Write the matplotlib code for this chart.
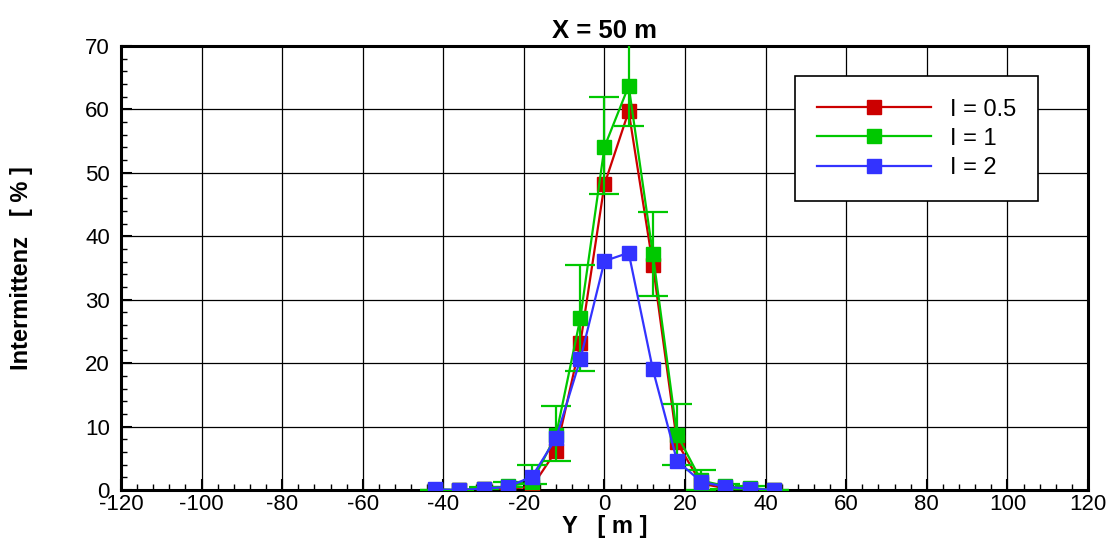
import matplotlib
matplotlib.use("Agg")
import matplotlib.pyplot as plt
from matplotlib.ticker import MultipleLocator
from matplotlib.lines import Line2D

plt.rcParams['font.family'] = ['Liberation Sans', 'DejaVu Sans']
plt.rcParams['axes.unicode_minus'] = False

y_pos = [-42, -36, -30, -24, -18, -12, -6, 0, 6, 12, 18, 24, 30, 36, 42]
red_vals = [0.0, 0.0, 0.1, 0.2, 0.5, 6.2, 23.1, 48.2, 59.7, 35.5, 7.5, 1.0, 0.3, 0.1, 0.0]
green_vals = [0.0, 0.0, 0.2, 0.6, 1.2, 8.7, 27.1, 54.1, 63.7, 37.2, 8.7, 1.5, 0.6, 0.3, 0.0]
blue_vals = [0.1, 0.0, 0.2, 0.5, 2.1, 8.2, 20.6, 36.1, 37.4, 19.0, 4.6, 1.3, 0.5, 0.2, 0.0]
green_err_lo = [0.0, 0.0, 0.1, 0.4, 1.0, 4.6, 18.7, 46.6, 57.4, 30.6, 3.9, 0.0, 0.2, 0.1, 0.0]
green_err_hi = [0.0, 0.0, 0.4, 1.2, 4.0, 13.2, 35.4, 61.9, 72.0, 43.8, 13.5, 3.2, 1.0, 0.6, 0.0]

labels = ['I = 0.5', 'I = 1', 'I = 2']
colors = ['#cc0000', '#00c800', '#3333ff']

fig = plt.figure(figsize=(11.15, 5.51), dpi=100)
ax = fig.add_axes([0.1085, 0.1107, 0.8673, 0.8058])

ax.grid(True, which='major', color='black', linewidth=0.9)
ax.set_axisbelow(True)

ax.plot(y_pos, red_vals, color=colors[0], lw=1.6, marker='s', ms=9.5, zorder=3)
lo = [v - l for v, l in zip(green_vals, green_err_lo)]
hi = [h - v for v, h in zip(green_vals, green_err_hi)]
ax.errorbar(y_pos, green_vals, yerr=[lo, hi], color=colors[1], lw=1.6, marker='s', ms=9.5,
            capsize=11, elinewidth=1.6, capthick=1.6, zorder=4)
ax.plot(y_pos, blue_vals, color=colors[2], lw=1.6, marker='s', ms=9.5, zorder=5)

ax.set_xlim(-120, 120)
ax.set_ylim(0, 70)
ax.xaxis.set_major_locator(MultipleLocator(20))
ax.xaxis.set_minor_locator(MultipleLocator(4))
ax.yaxis.set_major_locator(MultipleLocator(10))
ax.yaxis.set_minor_locator(MultipleLocator(2))
ax.tick_params(which='major', direction='in', length=8, width=1.5, labelsize=16, top=False, right=False)
ax.tick_params(axis='x', which='major', pad=3)
ax.tick_params(axis='y', which='major', pad=8)
ax.tick_params(which='minor', direction='in', length=4, width=1.0, top=False, right=False)
for s in ax.spines.values():
    s.set_linewidth(2.2)

ax.set_title('X = 50 m', fontsize=18.5, fontweight='bold', pad=6)
ax.set_xlabel('Y   [ m ]', fontsize=17, fontweight='bold', labelpad=0)
ax.set_ylabel('Intermittenz   [ % ]', fontsize=17, fontweight='bold')
ax.yaxis.set_label_coords(-0.091, 0.5)

hs = [Line2D([], [], color=c, lw=1.6, marker='s', ms=9.5) for c in colors]
leg = ax.legend(hs, labels, loc='upper left', bbox_to_anchor=(0.697, 0.932), fontsize=17,
                frameon=True, fancybox=False, edgecolor='black', framealpha=1,
                handlelength=4.8, borderpad=0.95, labelspacing=0.3, handletextpad=0.8,
                borderaxespad=0)
leg.get_frame().set_linewidth(1.2)

fig.savefig('out.png', dpi=100)
